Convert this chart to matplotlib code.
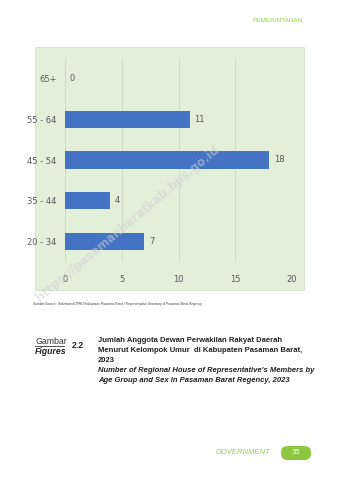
import matplotlib.pyplot as plt
from matplotlib.patches import Rectangle, FancyBboxPatch

# data
kelompok_umur = ['20 - 34', '35 - 44', '45 - 54', '55 - 64', '65+']
jumlah = [7, 4, 18, 11, 0]
x_ticks = [0, 5, 10, 15, 20]

grey = '#595959'
hijau = '#92d050'
cap = ['Liberation Sans', 'DejaVu Sans']

fig = plt.figure(figsize=(3.38, 4.8), dpi=100)

# green chart panel
fig.patches.append(Rectangle((35 / 338, 1 - 290 / 480), 269 / 338, 243 / 480,
                             transform=fig.transFigure, facecolor='#e2efd9',
                             edgecolor='#d5dfce', linewidth=0.6, zorder=-5))

ax = fig.add_axes([65 / 338, 1 - 262 / 480, 227 / 338, 204 / 480])
ax.set_zorder(2)
ax.set_facecolor('none')
ypos = range(len(kelompok_umur))
ax.barh(ypos, jumlah, height=0.42, color='#4472c4', linewidth=0, zorder=3)
for y, v in zip(ypos, jumlah):
    ax.text(v + 0.4, y, str(v), va='center', ha='left', fontsize=6,
            color=grey)

ax.set_xlim(0, 20)
ax.set_ylim(-0.5, len(kelompok_umur) - 0.5)
ax.set_xticks(x_ticks)
ax.set_yticks(list(ypos))
ax.set_yticklabels(kelompok_umur)
ax.tick_params(axis='both', length=0, labelsize=6, labelcolor=grey)
ax.tick_params(axis='x', pad=9)
ax.tick_params(axis='y', pad=6)
ax.grid(axis='x', color='#cbd8c3', linewidth=0.6, zorder=0)
for s in ax.spines.values():
    s.set_visible(False)

# header
fig.text(303 / 338, 1 - 21 / 480, 'PEMERINTAHAN', ha='right', va='center',
         fontsize=4.6, color=hijau, family=cap)

# source
fig.text(33 / 338, 1 - 304 / 480,
         'Sumber/Source : Sekretariat DPRD Kabupaten Pasaman Barat / '
         'Representative Secretary of Pasaman Barat Regency',
         ha='left', va='center', fontsize=2.3, color='#404040', family=cap)

# caption
fig.text(35 / 338, 1 - 341 / 480, 'Gambar', ha='left', va='center',
         fontsize=6.3, color='#333333', family=cap)
fig.add_artist(plt.Line2D([35 / 338, 64 / 338], [1 - 346 / 480, 1 - 346 / 480],
                          color='#333333', linewidth=0.6))
fig.text(35 / 338, 1 - 351 / 480, 'Figures', ha='left', va='center',
         fontsize=6.3, color='#222222', style='italic', weight='bold', family=cap)
fig.text(72 / 338, 1 - 346 / 480, '2.2', ha='left', va='center',
         fontsize=6.3, color='#222222', weight='bold', family=cap)
judul = ['Jumlah Anggota Dewan Perwakilan Rakyat Daerah',
         'Menurut Kelompok Umur  di Kabupaten Pasaman Barat,',
         '2023']
judul_en = ["Number of Regional House of Representative's Members by",
            'Age Group and Sex in Pasaman Barat Regency, 2023']
for i, t in enumerate(judul):
    fig.text(98 / 338, 1 - (341 + 10 * i) / 480, t, ha='left', va='center',
             fontsize=5.5, color='#222222', weight='bold', family=cap)
for i, t in enumerate(judul_en):
    fig.text(98 / 338, 1 - (371 + 10 * i) / 480, t, ha='left', va='center',
             fontsize=5.5, color='#222222', weight='bold', style='italic', family=cap)

# watermark
fig.text(128 / 338, 1 - 224 / 480, 'https://pasamanbaratkab.bps.go.id',
         ha='center', va='center', rotation=40, fontsize=8.5,
         color='#cfcfcf', alpha=0.55, weight='bold', zorder=5)

# footer
fig.text(270 / 338, 1 - 453 / 480, 'GOVERNMENT', ha='right', va='center',
         fontsize=5.5, color=hijau, style='italic', family=cap)
fig.patches.append(FancyBboxPatch((281 / 338, 1 - 460 / 480), 30 / 338, 14 / 480,
                                  boxstyle='round,pad=0,rounding_size=0.02',
                                  transform=fig.transFigure, facecolor='#8cc63f',
                                  edgecolor='none', mutation_aspect=338 / 480))
fig.text(296 / 338, 1 - 453 / 480, '35', ha='center', va='center',
         fontsize=5.5, color='white', family=cap)

fig.savefig('out.png', dpi=100)
